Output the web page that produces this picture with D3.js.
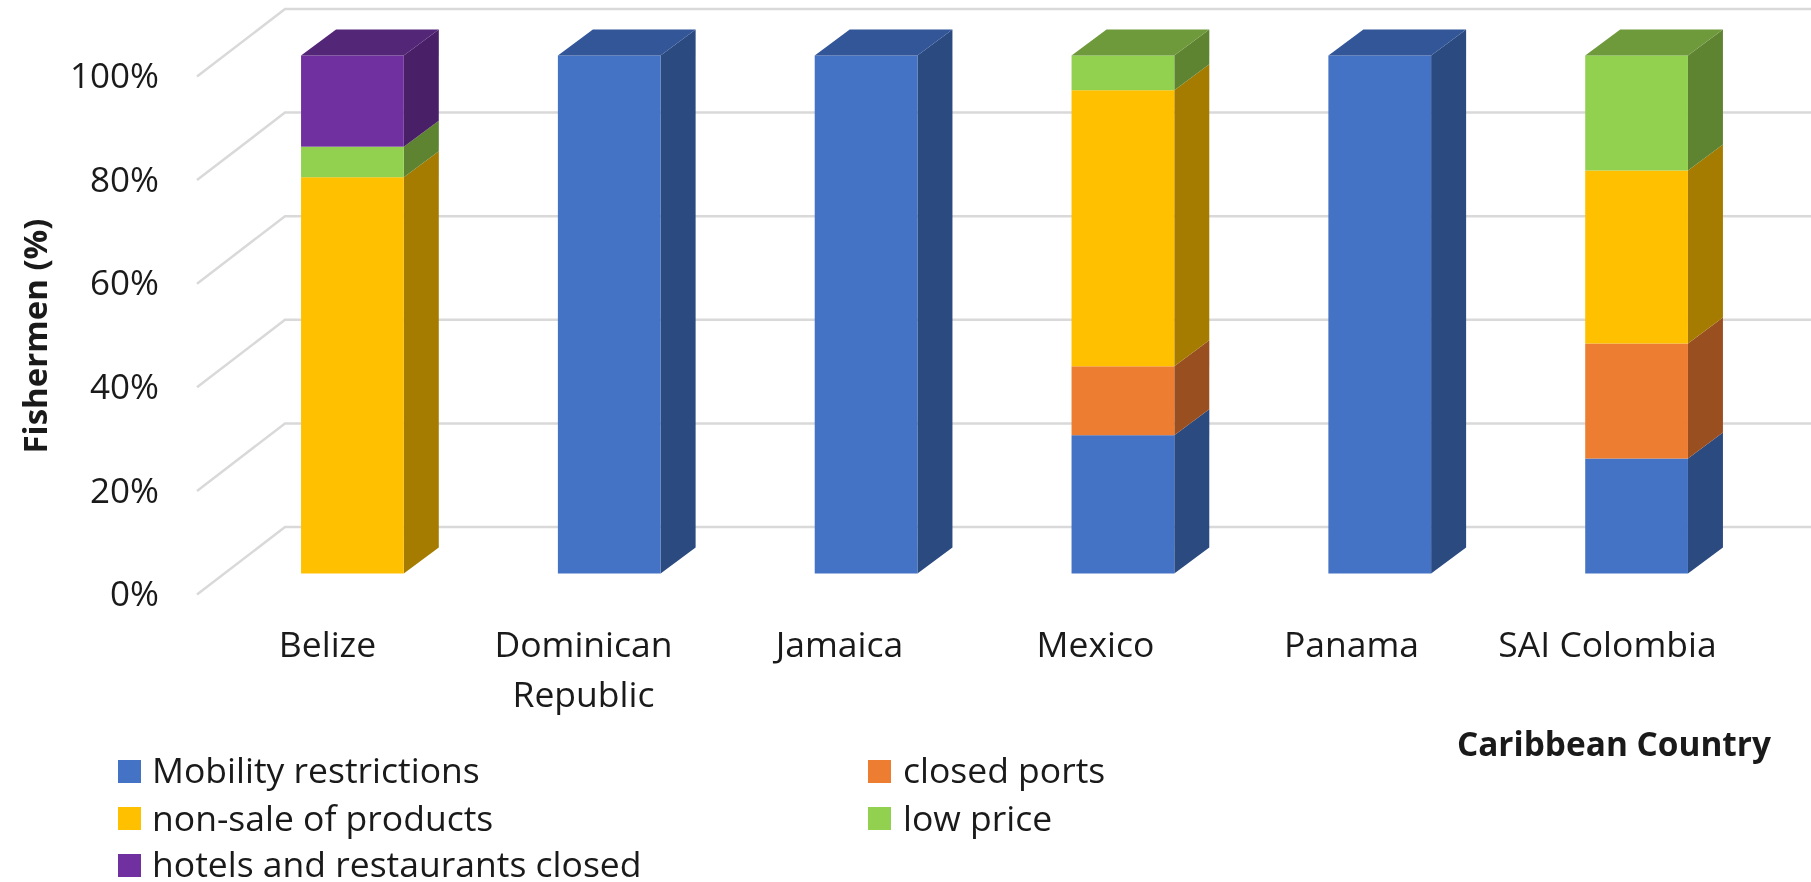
<!DOCTYPE html>
<html><head><meta charset="utf-8">
<script src="https://d3js.org/d3.v7.min.js"></script>
<style>
html,body{margin:0;padding:0;background:#fff;overflow:hidden}
svg{filter:blur(0.55px);display:block}
text{font-family:"Open Sans",sans-serif;fill:#1a1a1a}
</style></head><body><svg id="c" width="1811" height="882"></svg>
<script>
const categories=["Belize","Dominican Republic","Jamaica","Mexico","Panama","SAI Colombia"];
const seriesNames=["Mobility restrictions","closed ports","non-sale of products","low price","hotels and restaurants closed"];
const mobility=[0,100,100,26.7,100,22.2];
const closedPorts=[0,0,0,13.3,0,22.2];
const nonSale=[76.5,0,0,53.3,0,33.4];
const lowPrice=[5.9,0,0,6.7,0,22.2];
const hotels=[17.6,0,0,0,0,0];
const ticks=[0,20,40,60,80,100];
const frontColors=["#4472C4","#ED7D31","#FFC000","#92D050","#7030A0"];
const sideColors=["#2B4A80","#9A4F20","#A67C00","#5F8431","#491F68"];
const topColors=["#325698","#B35C24","#BF9000","#6F9A3C","#542678"];

const svg=d3.select("#c");
const y=d3.scaleLinear().domain([0,100]).range([594.5,76.5]);
const x=d3.scaleBand().domain(categories).range([224,1765]).paddingInner(0.6).paddingOuter(0.3);
const xLabel=d3.scalePoint().domain(categories).range([327,1607]);
const wallDx=88,wallDy=-67.5,barDx=35,barDy=-26,barLift=-21,rightEdge=1811;

// gridlines
const grid=svg.append("g");
grid.selectAll("path").data(ticks).join("path")
 .attr("d",t=>d3.line()([[197,y(t)],[197+wallDx,y(t)+wallDy],[rightEdge,y(t)+wallDy]]))
 .attr("fill","none").attr("stroke","#D9D9D9").attr("stroke-width",2.5);

// stacked bars
const rows=categories.map((c,i)=>({cat:c,mobility:mobility[i],closedPorts:closedPorts[i],nonSale:nonSale[i],lowPrice:lowPrice[i],hotels:hotels[i]}));
const stack=d3.stack().keys(["mobility","closedPorts","nonSale","lowPrice","hotels"])(rows);
const bars=svg.append("g");
const by=v=>y(v)+barLift;
stack.forEach((s,k)=>{
 s.forEach(d=>{
  if(d[1]-d[0]<=0) return;
  const x0=x(d.data.cat),w=x.bandwidth(),top=by(d[1]),bot=by(d[0]);
  bars.append("path").attr("fill",sideColors[k])
   .attr("d",d3.line()([[x0+w,top],[x0+w+barDx,top+barDy],[x0+w+barDx,bot+barDy],[x0+w,bot]]));
  bars.append("rect").attr("fill",frontColors[k]).attr("x",x0).attr("y",top).attr("width",w).attr("height",bot-top);
  if(d[1]>=99.9) bars.append("path").attr("fill",topColors[k])
   .attr("d",d3.line()([[x0,top],[x0+barDx,top+barDy],[x0+w+barDx,top+barDy],[x0+w,top]]));
 });
});

// y axis
const yAxis=svg.append("g").attr("transform","translate(159,0)")
 .call(d3.axisLeft(y).tickValues(ticks).tickSize(0).tickPadding(0).tickFormat(d=>d+"%"));
yAxis.select(".domain").remove();
yAxis.selectAll("text").attr("font-size",35).attr("font-family",null).attr("dy",".35em").attr("transform","translate(0,-1)");

// x axis
const xAxis=svg.append("g").attr("transform","translate(0,631)")
 .call(d3.axisBottom(xLabel).tickSize(0).tickPadding(0));
xAxis.select(".domain").remove();
xAxis.selectAll("text").attr("font-family",null).attr("font-size",35.5).attr("dy",null).attr("y",26).each(function(d){
 const t=d3.select(this);
 if(d==="Dominican Republic"){
  t.text(null);
  t.append("tspan").attr("x",0).text("Dominican");
  t.append("tspan").attr("x",0).attr("dy",50).text("Republic");
 }
});

// titles
svg.append("text").attr("transform","translate(47,336) rotate(-90)").attr("text-anchor","middle")
 .attr("font-size",33).attr("font-weight",700).text("Fishermen (%)");
svg.append("text").attr("x",1771).attr("y",756).attr("text-anchor","end")
 .attr("font-size",33.4).attr("font-weight",700).text("Caribbean Country");

// legend
const legX=[118,868],legTextX=[152,903],legY=[760,760,807,807,854],legBase=[783,783,831,831,877];
seriesNames.forEach((n,i)=>{
 svg.append("rect").attr("x",legX[i%2]).attr("y",legY[i]).attr("width",23).attr("height",23).attr("fill",frontColors[i]);
 svg.append("text").attr("x",legTextX[i%2]).attr("y",legBase[i]).attr("font-size",35.5).text(n);
});
</script></body></html>
